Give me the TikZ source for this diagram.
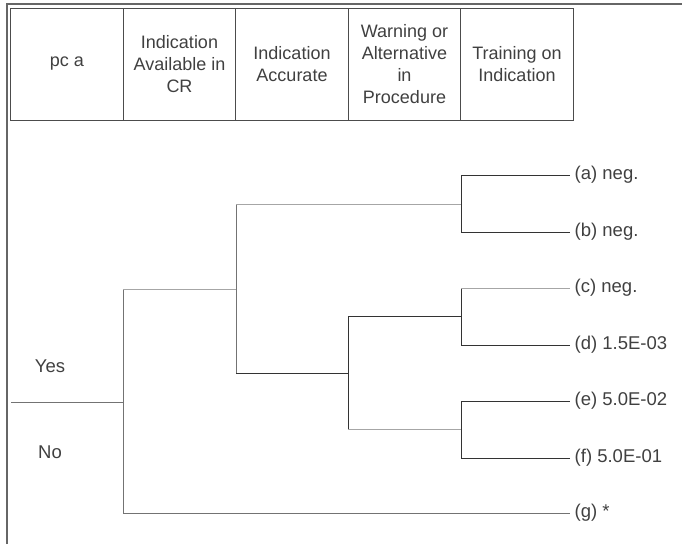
\documentclass[tikz,border=0pt]{standalone}
\usepackage{fontspec}
\setmainfont{Liberation Sans}
\begin{document}
\begin{tikzpicture}[x=1pt,y=-1pt,
        hdr/.style={draw=black!70,line width=0.9pt,minimum width=112.4pt,minimum height=112pt,
            align=center,text=black!75,font=\fontsize{18}{22}\selectfont},
        lbl/.style={text=black!75,font=\fontsize{18.5}{22}\selectfont},
        leaf/.style={lbl,anchor=west,inner sep=4.5pt},
        lite/.style={draw=black!35,line width=0.8pt},
        mid/.style={draw=black!55,line width=0.9pt},
        dark/.style={draw=black!80,line width=0.9pt}]
        \useasboundingbox (0,0) rectangle (682,544);
        \draw[black!60,line width=1.2pt] (7,544) -- (7,4) -- (682,4);
        % header
        \node[hdr] (pca) at (67,64) {pc a};
        \node[hdr] (avail) at (179.5,64) {Indication\\Available in\\CR};
        \node[hdr] (accur) at (292,64) {Indication\\Accurate};
        \node[hdr] (warn) at (404.5,64) {Warning or\\Alternative\\in\\Procedure};
        \node[hdr] (train) at (517,64) {Training on\\Indication};
        % tree
        \coordinate (root) at (11,402);
        \coordinate (n1) at (123,402);
        \coordinate (n2) at (236,289);
        \coordinate (n3) at (348,373);
        \coordinate (n4) at (461,204);
        \coordinate (n5) at (461,316.5);
        \coordinate (n6) at (461,429.5);
        \node[leaf] (la) at (570,175) {(a) neg.};
        \node[leaf] (lb) at (570,232) {(b) neg.};
        \node[leaf] (lc) at (570,288) {(c) neg.};
        \node[leaf] (ld) at (570,345) {(d) 1.5E-03};
        \node[leaf] (le) at (570,401) {(e) 5.0E-02};
        \node[leaf] (lf) at (570,458) {(f) 5.0E-01};
        \node[leaf] (lg) at (570,513) {(g) *};
        \node[lbl] (yes) at (50,366) {Yes};
        \node[lbl] (no) at (50,452) {No};
        \draw[mid] (root) -- (n1);
        \draw[mid] (n1) |- (lg.west);
        \draw[mid] (n1) -- (n1 |- n2);
        \draw[lite] (n1 |- n2) -- (n2);
        \draw[mid] (n2) -- (n2 |- n4);
        \draw[lite] (n2 |- n4) -- (n4);
        \draw[mid] (n2) -- (n2 |- n3);
        \draw[dark] (n2 |- n3) -- (n3);
        \draw[dark] (n3) |- (n5);
        \draw[dark] (n3) -- (n3 |- n6);
        \draw[lite] (n3 |- n6) -- (n6);
        \draw[dark] (n4) |- (la.west);
        \draw[dark] (n4) |- (lb.west);
        \draw[dark] (n5) -- (n5 |- lc.west);
        \draw[lite] (n5 |- lc.west) -- (lc.west);
        \draw[dark] (n5) |- (ld.west);
        \draw[dark] (n6) |- (le.west);
        \draw[dark] (n6) |- (lf.west);
\end{tikzpicture}
\end{document}
